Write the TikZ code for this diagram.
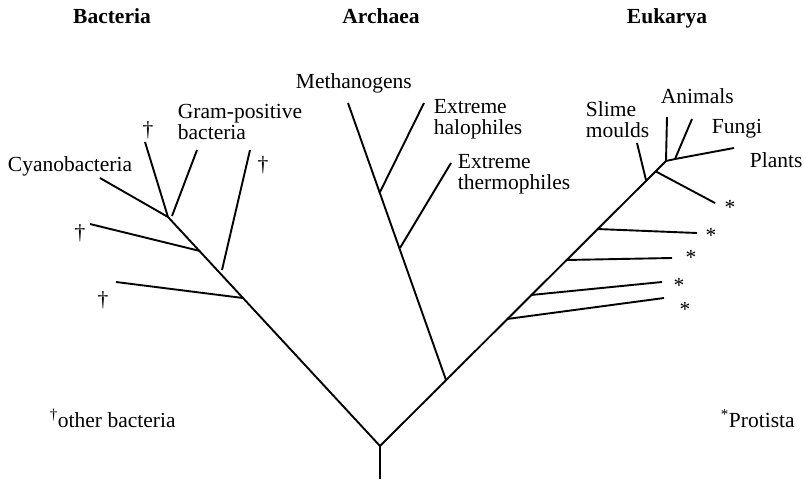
\documentclass[tikz,border=0pt]{standalone}
\usepackage{fontspec}
\setmainfont{Liberation Serif}
\usepackage{tikz}
\usetikzlibrary{positioning}

\begin{document}
\begin{tikzpicture}[x=1pt,y=-1pt,line width=1.9pt,
    every node/.style={inner sep=0pt,font=\fontsize{21.5}{21}\selectfont},
    titre/.style={anchor=base,font=\fontsize{21.5}{21}\selectfont\bfseries},
    nom/.style={anchor=base west},
    nom2/.style={anchor=north west,align=left},
    marque/.style={anchor=center}]
    \useasboundingbox (0,0) rectangle (804,482);

    % Déclaration des points de l'arbre
    \coordinate (r) at (380,479);
    \coordinate (f) at (380,446);
    % bactéries
    \coordinate (b1) at (243,298);
    \coordinate (b2) at (222,270);
    \coordinate (b3) at (200,251);
    \coordinate (b4) at (168,217);
    \coordinate (b4g) at (172,216);
    \coordinate (tb1) at (116,282);
    \coordinate (tb2) at (250,150);
    \coordinate (tb3) at (90,224);
    \coordinate (tcy) at (100,178);
    \coordinate (tb4) at (145,142);
    \coordinate (tgp) at (197,150);
    % archées
    \coordinate (a0) at (446,380);
    \coordinate (a1) at (380,192);
    \coordinate (a2) at (400,248);
    \coordinate (tme) at (348,103);
    \coordinate (tha) at (424,103);
    \coordinate (tth) at (451,163);
    % eucaryotes
    \coordinate (e1) at (507,319);
    \coordinate (e2) at (531,295);
    \coordinate (e3) at (566,260);
    \coordinate (e4) at (597,229);
    \coordinate (e5) at (646,180);
    \coordinate (e6) at (655,171);
    \coordinate (e7) at (666,161);
    \coordinate (e8) at (675,159);
    \coordinate (te1) at (664,298);
    \coordinate (te2) at (662,282);
    \coordinate (te3) at (672,258);
    \coordinate (te4) at (697,233);
    \coordinate (te6) at (715,203);
    \coordinate (tsl) at (637,143);
    \coordinate (tan) at (667,117);
    \coordinate (tfu) at (692,119);
    \coordinate (tpl) at (734,148);

    % Ajout des branches
    \draw (r) -- (f);
    \draw (f) -- (b4);
    \draw (b1) -- (tb1);
    \draw (b2) -- (tb2);
    \draw (b3) -- (tb3);
    \draw (b4) -- (tcy);
    \draw (b4) -- (tb4);
    \draw (b4g) -- (tgp);
    \draw (f) -- (e7);
    \draw (a0) -- (tme);
    \draw (a1) -- (tha);
    \draw (a2) -- (tth);
    \draw (e1) -- (te1);
    \draw (e2) -- (te2);
    \draw (e3) -- (te3);
    \draw (e4) -- (te4);
    \draw (e5) -- (tsl);
    \draw (e6) -- (te6);
    \draw (e7) -- (tan);
    \draw (e7) -- (e8);
    \draw (e8) -- (tfu);
    \draw (e8) -- (tpl);

    % Titres des domaines
    \node[titre] (bac) at (112,23) {Bacteria};
    \node[titre] (arc) at (381,23) {Archaea};
    \node[titre] (euk) at (667,23) {Eukarya};

    % Noms des groupes
    \node[nom] (cya) at (7,171) {Cyanobacteria};
    \node[nom2] (gra) at (177,103) {Gram-positive\\bacteria};
    \node[nom] (met) at (295,88) {Methanogens};
    \node[nom2] (hal) at (433,98) {Extreme\\halophiles};
    \node[nom2] (the) at (457,153) {Extreme\\thermophiles};
    \node[nom2] (sli) at (585,101) {Slime\\moulds};
    \node[nom] (ani) at (660,103) {Animals};
    \node[nom] (fun) at (711,133) {Fungi};
    \node[nom] (pla) at (749,167) {Plants};

    % Marques
    \node[marque] (d1) at (148,130) {\textdagger};
    \node[marque] (d2) at (263,165) {\textdagger};
    \node[marque] (d3) at (80,233) {\textdagger};
    \node[marque] (d4) at (103,300) {\textdagger};
    \node[marque] (s1) at (730,207) {*};
    \node[marque] (s2) at (711,235) {*};
    \node[marque] (s3) at (691,257) {*};
    \node[marque] (s4) at (679,285) {*};
    \node[marque] (s5) at (685,309) {*};

    % Légendes
    \node[nom] (leg1) at (49,427) {\textsuperscript{\textdagger}other bacteria};
    \node[nom] (leg2) at (720,427) {\textsuperscript{*}Protista};
\end{tikzpicture}
\end{document}
